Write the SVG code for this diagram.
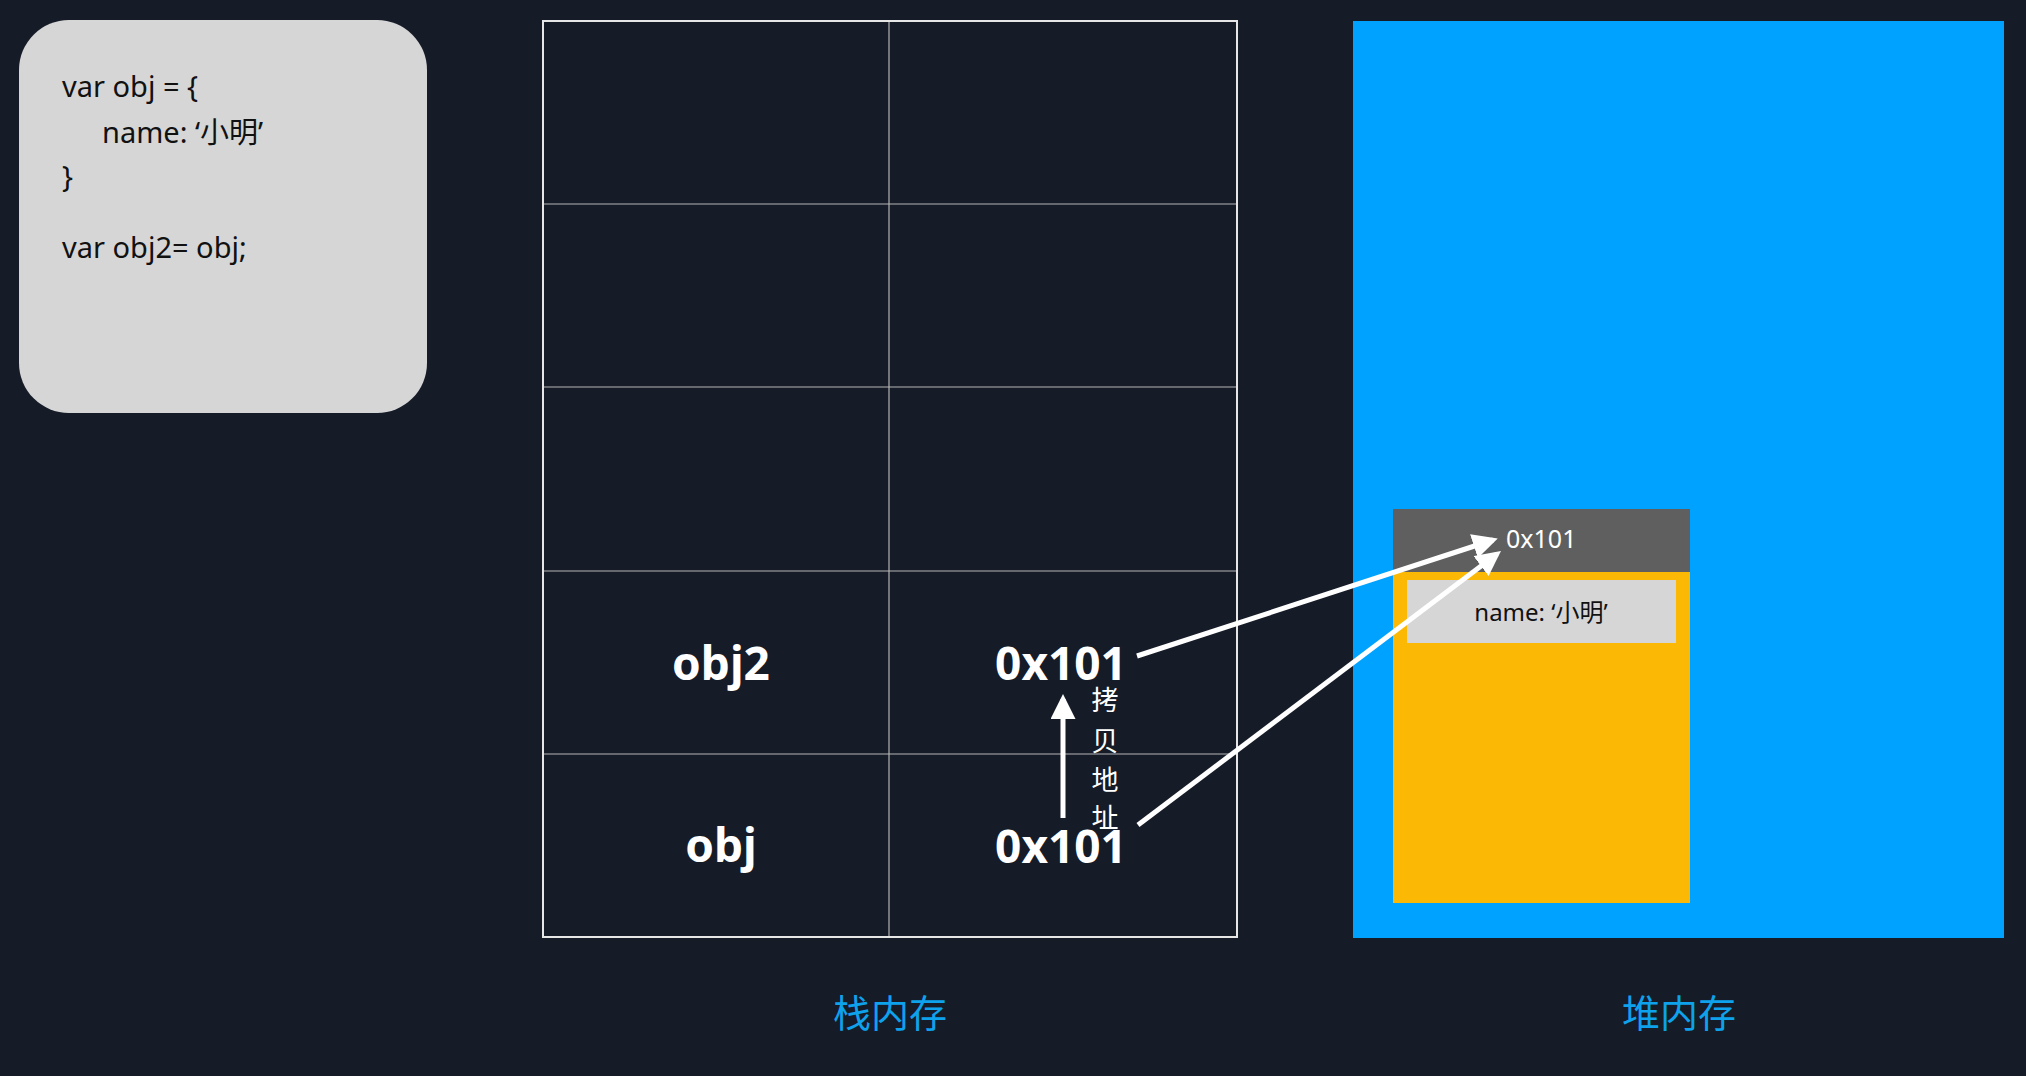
<svg xmlns="http://www.w3.org/2000/svg" width="2026" height="1076" viewBox="0 0 2026 1076">
<style>
.code{font-family:"Noto Sans","Noto Sans CJK SC",sans-serif;font-size:29px;fill:#111}
.big{font-family:"Noto Sans",sans-serif;font-weight:bold;font-size:46px;fill:#fff;text-anchor:middle}
.grid{stroke:#b5b5b5;stroke-width:1.2;fill:none}
.lab{font-family:"Noto Sans CJK SC",sans-serif;font-size:38px;fill:#0ea1ec;text-anchor:middle}
.vt{font-family:"Noto Sans CJK SC",sans-serif;font-size:27px;fill:#fff;text-anchor:middle}
.conn{stroke:#fff;stroke-width:5;fill:none}
</style>
<defs>
<marker id="ah" markerWidth="5" markerHeight="5" refX="4" refY="2.5" orient="auto" markerUnits="strokeWidth">
<path d="M0,0 L5,2.5 L0,5 Z" fill="#fff"/>
</marker>
</defs>
<rect width="2026" height="1076" fill="#151b27"/>
<g id="code">
<rect x="19" y="20" width="408" height="393" rx="50" fill="#d6d6d6"/>
<text class="code" x="62" y="97">var obj = {</text>
<text class="code" x="102" y="143">name: ‘小明’</text>
<text class="code" x="62" y="187">}</text>
<text class="code" x="62" y="258">var obj2= obj;</text>
</g>
<g id="stack">
<line class="grid" x1="889" y1="21" x2="889" y2="937"/>
<line class="grid" x1="543" y1="204" x2="1237" y2="204"/>
<line class="grid" x1="543" y1="387" x2="1237" y2="387"/>
<line class="grid" x1="543" y1="571" x2="1237" y2="571"/>
<line class="grid" x1="543" y1="754" x2="1237" y2="754"/>
<rect x="543" y="21" width="694" height="916" fill="none" stroke="#e6e6e6" stroke-width="2"/>
<text class="big" x="721" y="680">obj2</text>
<text class="big" x="721" y="862">obj</text>
<text class="big" x="1061" y="680">0x101</text>
<text class="big" x="1061" y="863">0x101</text>
<text class="lab" x="890" y="1027">栈内存</text>
</g>
<g id="heap">
<rect x="1353" y="21" width="651" height="917" fill="#00a2ff"/>
<rect x="1393" y="509" width="297" height="394" fill="#fbb906"/>
<rect x="1393" y="509" width="297" height="63" fill="#5f5f5f"/>
<rect x="1407" y="580" width="269" height="63" fill="#d6d6d6"/>
<text x="1506" y="548" font-family="Noto Sans,sans-serif" font-size="25" fill="#fff">0x101</text>
<text x="1541" y="621" font-family="Noto Sans,Noto Sans CJK SC,sans-serif" font-size="24" fill="#111" text-anchor="middle">name: ‘小明’</text>
<text class="lab" x="1679" y="1027">堆内存</text>
</g>
<g id="connectors">
<line class="conn" x1="1063" y1="818" x2="1063" y2="699" marker-end="url(#ah)"/>
<line class="conn" x1="1137" y1="656" x2="1493" y2="540" marker-end="url(#ah)"/>
<line class="conn" x1="1138" y1="825" x2="1497" y2="554" marker-end="url(#ah)"/>
<text class="vt" x="1105" y="710">拷</text>
<text class="vt" x="1105" y="751">贝</text>
<text class="vt" x="1105" y="790">地</text>
<text class="vt" x="1105" y="828">址</text>
</g>
</svg>
